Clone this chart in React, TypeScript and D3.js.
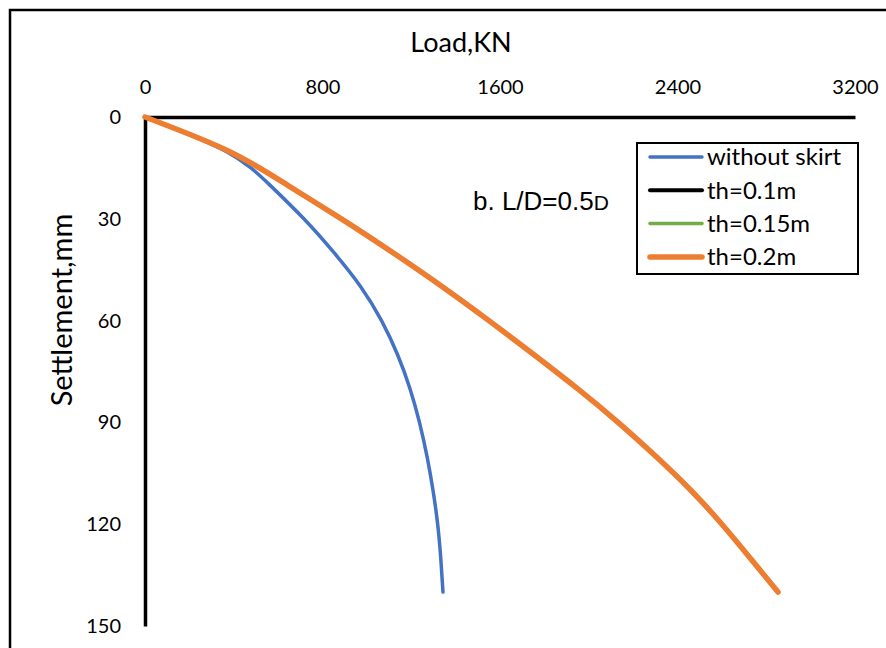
import React, { useEffect, useRef } from "react";
import * as d3 from "d3";

// settlement readings (mm) shared by every curve
const settlement = [0, 10, 20, 30, 40, 50, 60, 70, 80, 90, 100, 110, 120, 130, 140];

// load (kN) for each series
const withoutSkirt = [0, 362, 562, 716, 852, 972, 1066, 1138, 1194, 1237, 1271, 1298, 1319, 1333, 1343];
const th01 = [0, 375, 640, 885, 1118, 1340, 1550, 1752, 1948, 2132, 2302, 2460, 2600, 2728, 2853];
const th015 = [0, 375, 640, 885, 1118, 1340, 1550, 1752, 1948, 2132, 2302, 2460, 2600, 2728, 2853];
const th02 = [0, 375, 640, 885, 1118, 1340, 1550, 1752, 1948, 2132, 2302, 2460, 2600, 2728, 2853];

const seriesNames = ["without skirt", "th=0.1m", "th=0.15m", "th=0.2m"];
const seriesColors = ["#4472C4", "#000000", "#70AD47", "#ED7D31"];
const seriesWidths = [3.5, 4, 3.5, 5.5];

const xTicks = [0, 800, 1600, 2400, 3200];
const yTicks = [0, 30, 60, 90, 120, 150];

const font = "Lato, 'Open Sans', sans-serif";

const App = () => {
  const xaxis = useRef(null);
  const yaxis = useRef(null);

  const x = d3.scaleLinear().domain([0, 3200]).range([145, 855]);
  const y = d3.scaleLinear().domain([0, 150]).range([117, 626]);

  const line = d3
    .line<number>()
    .x(d => x(d))
    .y((d, i) => y(settlement[i]))
    .curve(d3.curveNatural);

  const allSeries = [withoutSkirt, th01, th015, th02];

  useEffect(() => {
    const xAxis = d3
      .axisTop(x)
      .tickValues(xTicks)
      .tickSize(0)
      .tickPadding(23)
      .tickFormat(d3.format("d"));
    const gx = d3.select(xaxis.current).call(xAxis);
    gx.attr("font-family", null).attr("font-size", null);
    gx.select(".domain").attr("stroke", "#000").attr("stroke-width", 3.5);
    gx.selectAll("text")
      .style("font-family", font)
      .style("font-size", "20px")
      .attr("fill", "#000");

    const yAxis = d3
      .axisLeft(y)
      .tickValues(yTicks)
      .tickSize(0)
      .tickPadding(24)
      .tickFormat(d3.format("d"));
    const gy = d3.select(yaxis.current).call(yAxis);
    gy.attr("font-family", null).attr("font-size", null);
    gy.select(".domain").attr("stroke", "#000").attr("stroke-width", 3.5);
    gy.selectAll("text")
      .style("font-family", font)
      .style("font-size", "20px")
      .attr("fill", "#000");
  }, []);

  return (
    <svg
      width={886}
      height={648}
      style={{ position: "absolute", left: 0, top: 0, background: "#fff" }}
    >
      <rect x={10} y={10} width={900} height={700} fill="#fff" stroke="#000" strokeWidth={2.5} />

      <text x={461} y={52} textAnchor="middle" fontFamily={font} fontSize={27}>
        Load,KN
      </text>
      <text
        transform="translate(72,310) rotate(-90)"
        textAnchor="middle"
        fontFamily={font}
        fontSize={29}
      >
        Settlement,mm
      </text>

      <g ref={xaxis} transform="translate(0,117)" />
      <g ref={yaxis} transform="translate(145,0)" />

      {allSeries.map((s, i) => (
        <path
          key={seriesNames[i]}
          d={line(s) || ""}
          fill="none"
          stroke={seriesColors[i]}
          strokeWidth={seriesWidths[i]}
          strokeLinecap="round"
        />
      ))}

      <text x={473} y={210} fontFamily="'Liberation Sans', Arial, sans-serif" fontSize={26}>
        b. L/D=0.5<tspan fontSize={21}>D</tspan>
      </text>

      <g>
        <rect x={637} y={143} width={221} height={131} fill="#fff" stroke="#000" strokeWidth={2} />
        {seriesNames.map((name, i) => (
          <g key={name} transform={`translate(0,${157 + i * 33.3})`}>
            <line
              x1={650}
              x2={702}
              y1={0}
              y2={0}
              stroke={seriesColors[i]}
              strokeWidth={seriesWidths[i]}
              strokeLinecap="round"
            />
            <text x={707} y={0} dy="0.35em" fontFamily={font} fontSize={24}>
              {name}
            </text>
          </g>
        ))}
      </g>
    </svg>
  );
};

export default App;
